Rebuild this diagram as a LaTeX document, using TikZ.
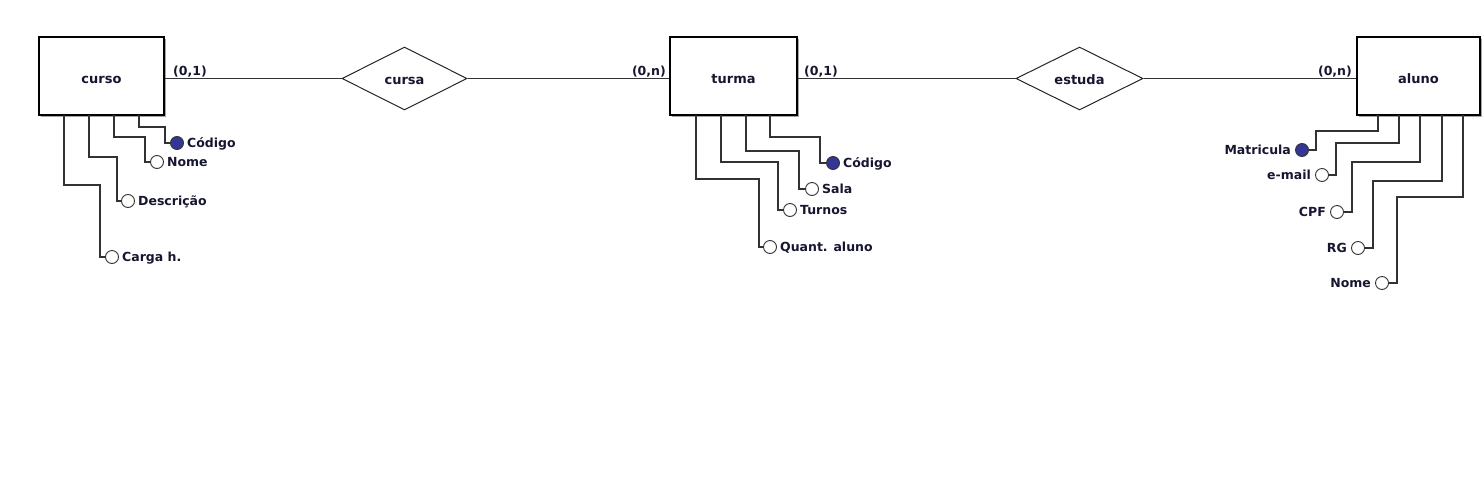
\documentclass[tikz,border=0pt]{standalone}
\usepackage{fontspec}
\setmainfont{DejaVu Sans}
\usetikzlibrary{shapes.geometric,shadows}
\definecolor{txt}{RGB}{22,22,48}
\definecolor{keyc}{RGB}{52,54,150}
\definecolor{ln}{RGB}{50,50,50}
\begin{document}
\begin{tikzpicture}[x=1pt,y=-1pt,
  font=\fontsize{12.5}{14}\selectfont\bfseries, text=txt,
  entity/.style={rectangle, draw=black, line width=1.3pt, fill=white,
    minimum width=#1, minimum height=78pt, inner sep=0pt,
    font=\fontsize{13}{15}\selectfont\bfseries,
    text height=14pt, text depth=0pt,
    drop shadow={shadow xshift=2pt, shadow yshift=-2pt, fill=gray!70, opacity=1}},
  rel/.style={diamond, draw=black!85, line width=1pt, fill=white,
    minimum width=#1, minimum height=63pt, inner sep=0pt,
    font=\fontsize{13}{15}\selectfont\bfseries,
    text height=11pt, text depth=0pt},
  attr/.style={circle, draw=black!80, line width=0.9pt, fill=white,
    minimum size=13pt, inner sep=0pt},
  key/.style={attr, fill=keyc},
  lbl/.style={inner sep=0pt, text height=8pt, text depth=0pt},
  conn/.style={draw=ln, line width=1.1pt},
  card/.style={inner sep=0pt, anchor=base west}]
\useasboundingbox (0,0) rectangle (1483,477);

% entities and relationships
\node[entity=125pt] (curso) at (101.5,76) {curso};
\node[entity=127pt] (turma) at (733.5,76) {turma};
\node[entity=123pt] (aluno) at (1418.5,76) {aluno};
\node[rel=125pt] (cursa) at (404.5,78.5) {cursa};
\node[rel=127pt] (estuda) at (1079.5,78.5) {estuda};

\draw[conn] (cursa.west) -- (cursa.west -| curso.east);
\draw[conn] (cursa.east) -- (cursa.east -| turma.west);
\draw[conn] (estuda.west) -- (estuda.west -| turma.east);
\draw[conn] (estuda.east) -- (estuda.east -| aluno.west);

% cardinalities
\node[card] (k1) at (173,75) {(0,1)};
\node[card, anchor=base east] (k2) at (666,75) {(0,n)};
\node[card] (k3) at (804,75) {(0,1)};
\node[card, anchor=base east] (k4) at (1352,75) {(0,n)};

% curso attributes
\node[key]  (cA1) at (177,143) {};
\node[attr] (cA2) at (157,162) {};
\node[attr] (cA3) at (128,201) {};
\node[attr] (cA4) at (112,257) {};
\node[lbl, anchor=west, xshift=3pt] (cL1) at (cA1.east) {Código};
\node[lbl, anchor=west, xshift=3pt] (cL2) at (cA2.east) {Nome};
\node[lbl, anchor=west, xshift=3pt] (cL3) at (cA3.east) {Descrição};
\node[lbl, anchor=west, xshift=3pt] (cL4) at (cA4.east) {Carga h.};
\coordinate (cd1) at (139,115);
\coordinate (cd2) at (114,115);
\coordinate (cd3) at (89,115);
\coordinate (cd4) at (64,115);
\draw[conn] (cd1) |- (165,127) |- (cA1.west);
\draw[conn] (cd2) |- (145,137) |- (cA2.west);
\draw[conn] (cd3) |- (117,157) |- (cA3.west);
\draw[conn] (cd4) |- (100,185) |- (cA4.west);

% turma attributes
\node[key]  (tA1) at (833,163) {};
\node[attr] (tA2) at (812,189) {};
\node[attr] (tA3) at (790,210) {};
\node[attr] (tA4) at (770,247) {};
\node[lbl, anchor=west, xshift=3pt] (tL1) at (tA1.east) {Código};
\node[lbl, anchor=west, xshift=3pt] (tL2) at (tA2.east) {Sala};
\node[lbl, anchor=west, xshift=3pt] (tL3) at (tA3.east) {Turnos};
\node[lbl, anchor=west, xshift=3pt] (tL4) at (tA4.east) {Quant. aluno};
\coordinate (td1) at (770,115);
\coordinate (td2) at (746,115);
\coordinate (td3) at (721,115);
\coordinate (td4) at (696,115);
\draw[conn] (td1) |- (820,137) |- (tA1.west);
\draw[conn] (td2) |- (799,151) |- (tA2.west);
\draw[conn] (td3) |- (778,162) |- (tA3.west);
\draw[conn] (td4) |- (759,179) |- (tA4.west);

% aluno attributes
\node[key]  (aA1) at (1302,150) {};
\node[attr] (aA2) at (1322,175) {};
\node[attr] (aA3) at (1337,212) {};
\node[attr] (aA4) at (1358,248) {};
\node[attr] (aA5) at (1382,283) {};
\node[lbl, anchor=east, xshift=-4pt] (aL1) at (aA1.west) {Matricula};
\node[lbl, anchor=east, xshift=-4pt] (aL2) at (aA2.west) {e-mail};
\node[lbl, anchor=east, xshift=-4pt] (aL3) at (aA3.west) {CPF};
\node[lbl, anchor=east, xshift=-4pt] (aL4) at (aA4.west) {RG};
\node[lbl, anchor=east, xshift=-4pt] (aL5) at (aA5.west) {Nome};
\coordinate (ad1) at (1378,115);
\coordinate (ad2) at (1399,115);
\coordinate (ad3) at (1420,115);
\coordinate (ad4) at (1442,115);
\coordinate (ad5) at (1463,115);
\draw[conn] (ad1) |- (1316,131) |- (aA1.east);
\draw[conn] (ad2) |- (1336,143) |- (aA2.east);
\draw[conn] (ad3) |- (1352,162) |- (aA3.east);
\draw[conn] (ad4) |- (1373,181) |- (aA4.east);
\draw[conn] (ad5) |- (1397,197) |- (aA5.east);
\end{tikzpicture}
\end{document}
